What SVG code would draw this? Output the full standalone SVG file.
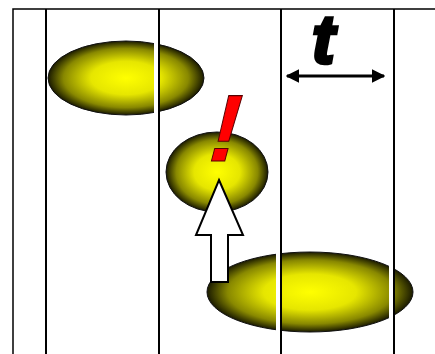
<svg xmlns="http://www.w3.org/2000/svg" width="435" height="354" viewBox="0 0 435 354">
  <defs>
    <radialGradient id="blob" cx="50%" cy="50%" r="50%">
      <stop offset="0" stop-color="#ffff00"/>
      <stop offset="0.45" stop-color="#e6e600"/>
      <stop offset="0.8" stop-color="#888800"/>
      <stop offset="1" stop-color="#1a1a00"/>
    </radialGradient>
    <marker id="ah" viewBox="0 0 10 10" refX="9" refY="5" markerWidth="4.5" markerHeight="4.5" orient="auto-start-reverse">
      <path d="M0,0 L10,5 L0,10 Z" fill="#000"/>
    </marker>
  </defs>
  <style>
    .blob { fill: url(#blob); stroke: #111; stroke-width: 1; }
    .halo { fill: #fff; }
    .vline { stroke: #000; stroke-width: 2; }
    .frame { stroke: #000; stroke-width: 1.5; fill: none; }
  </style>
  <rect width="435" height="354" fill="#fff"/>
  <path class="frame" d="M13,354 V9 H435"/>

  <g id="ellipse-1"><ellipse class="blob" cx="126" cy="78" rx="78" ry="37"/></g>
  <g id="ellipse-2"><ellipse class="blob" cx="217" cy="172" rx="51" ry="40"/></g>
  <g id="ellipse-3"><ellipse class="blob" cx="310" cy="292" rx="103" ry="40"/></g>

  <g id="grid">
    <rect class="halo" x="42" y="10" width="3" height="344"/>
    <rect class="halo" x="154" y="10" width="4" height="344"/>
    <rect class="halo" x="276" y="10" width="4" height="344"/>
    <rect class="halo" x="389" y="10" width="4" height="344"/>
    <line class="vline" x1="46" y1="9" x2="46" y2="354"/>
    <line class="vline" x1="159" y1="9" x2="159" y2="354"/>
    <line class="vline" x1="281" y1="9" x2="281" y2="354"/>
    <line class="vline" x1="394" y1="9" x2="394" y2="354"/>
  </g>

  <g id="up-arrow">
    <path d="M219,180 L243,235 L228,235 L228,282 L211,282 L211,235 L196,235 Z" fill="#fff" stroke="#000" stroke-width="2" stroke-linejoin="miter"/>
  </g>

  <g id="exclamation">
    <text x="207" y="161" font-family="Liberation Sans, Arial, sans-serif" font-size="95" font-weight="bold" font-style="italic" fill="#ff0000" stroke="#550000" stroke-width="1" transform="skewX(-4) translate(12,0)">!</text>
  </g>

  <g id="t-label">
    <text x="312" y="63" font-family="Liberation Sans, Arial, sans-serif" font-size="68" font-weight="bold" font-style="italic" fill="#000" stroke="#000" stroke-width="3.5">t</text>
    <line x1="287" y1="76" x2="384" y2="76" stroke="#000" stroke-width="3" marker-start="url(#ah)" marker-end="url(#ah)"/>
  </g>
</svg>
